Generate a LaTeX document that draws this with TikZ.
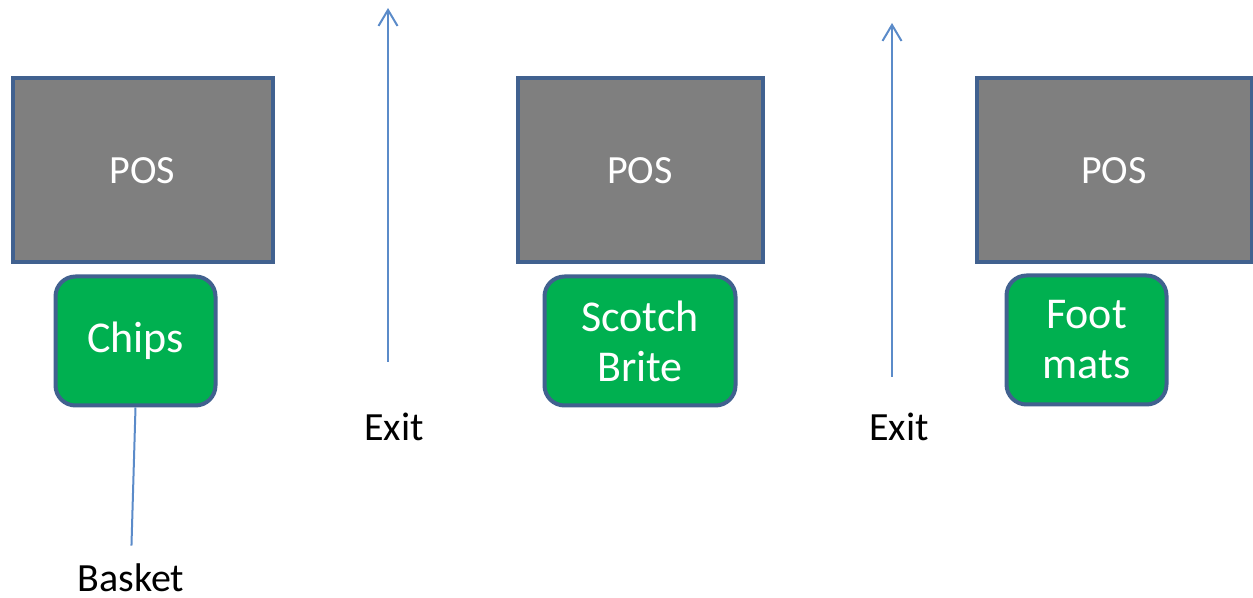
\documentclass[tikz,border=0pt]{standalone}
\usepackage{fontspec}
\setmainfont{Carlito}
\usepackage{xcolor}
\definecolor{Frame}{HTML}{41618F}
\definecolor{Till}{HTML}{7F7F7F}
\definecolor{Shelf}{HTML}{00B050}
\definecolor{Flow}{HTML}{5B8BC9}
\usepackage{tikz}
\usetikzlibrary{positioning,arrows.meta}

\begin{document}
\begin{tikzpicture}[x=0.5pt,y=-0.5pt,
 till/.style={rectangle,draw=Frame,fill=Till,line width=2pt,text=white,
  font=\fontsize{20}{24}\selectfont,minimum height=92pt},
 item/.style={rectangle,rounded corners=10pt,draw=Frame,fill=Shelf,line width=2pt,
  text=white,align=center,font=\fontsize{22}{25}\selectfont,minimum height=64.5pt},
 lbl/.style={font=\fontsize{20}{24}\selectfont,text=black},
 wire/.style={draw=Flow,line width=1pt},
 way/.style={wire,-{Straight Barb[length=8pt,width=9.5pt]}}]
\useasboundingbox (0,0) rectangle (1253,598);
% tills
\node[till,minimum width=130pt] (pos1) at (142.5,170.5) {POS};
\node[till,minimum width=122.5pt] (pos2) at (640,170.5) {POS};
\node[till,minimum width=137.5pt] (pos3) at (1114,170.5) {POS};
% impulse items
\node[item,minimum width=80pt] (chips) at (135.5,341) {Chips};
\node[item,minimum width=95.5pt] (scotch) at (640,341) {Scotch\\Brite};
\node[item,minimum width=80pt] (foot) at (1086.5,340) {Foot\\mats};
% exits
\coordinate (ea1) at (388,362);
\coordinate (eb1) at (388,8);
\coordinate (ea2) at (892,377);
\coordinate (eb2) at (892,23);
\draw[way] (ea1) -- (eb1);
\draw[way] (ea2) -- (eb2);
\node[lbl] (exit1) at (394,427) {Exit};
\node[lbl] (exit2) at (899,427) {Exit};
% basket
\node[lbl,inner sep=1pt] (basket) at (131,578) {Basket};
\draw[wire,shorten >=8pt] (chips.south) -- (basket.north);
\end{tikzpicture}
\end{document}
